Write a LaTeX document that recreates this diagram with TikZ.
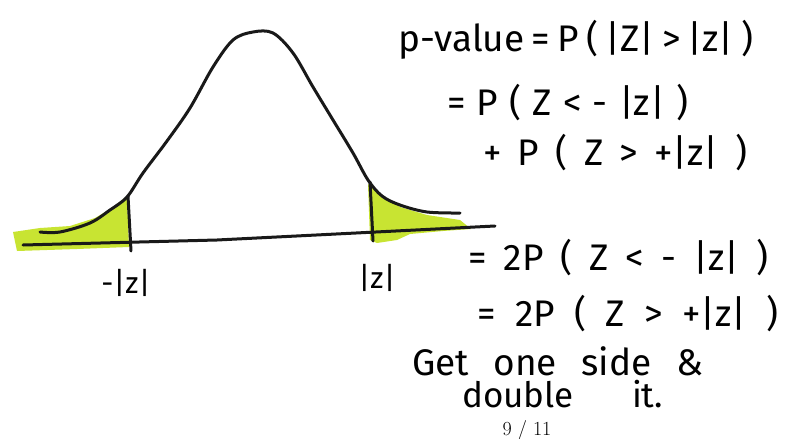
\documentclass[tikz,border=0pt]{standalone}
\usepackage{fontspec}
\setmainfont{Fira Sans}
\definecolor{hl}{RGB}{200,228,50}
\newcommand\hwline[2]{\makebox[#1][s]{#2}}
\begin{document}
\begin{tikzpicture}[x=1pt,y=-1pt,
  ink/.style={line width=3pt,line cap=round,line join=round,black!90},
  hand/.style={font=\fontsize{37}{40}\selectfont,anchor=west,inner sep=0pt},
  lab/.style={font=\fontsize{30}{34}\selectfont,inner sep=0pt}]
\useasboundingbox (0,0) rectangle (796,439);
% green tails
\fill[hl] (13,232) -- (40,228) -- (70,226) -- (95,218) -- (112,208) -- (127,196)
  -- (129,247) -- (77,249) -- (17,251) -- cycle;
\fill[hl] (368,184) -- (380,195) -- (400,207) -- (427,215) -- (460,220) -- (471,229)
  -- (443,231) -- (410,234) -- (397,240) -- (377,243) -- (370,240) -- cycle;
% axis
\draw[ink] (23,245) -- (217,240) -- (495,226);
% bell curve
\draw[ink] plot[smooth,tension=0.55] coordinates {(40,232) (60,232) (90,223) (110,210) (127,197)
  (143,173) (167,141) (190,108) (213,67) (233,40) (253,32) (273,33) (293,53)
  (313,87) (333,120) (353,153) (368,180) (382,196) (400,205) (427,212) (460,213)};
% cut lines
\coordinate (l1) at (128,196); \coordinate (l2) at (131,251);
\coordinate (r1) at (370,182); \coordinate (r2) at (373,241);
\draw[ink] (l1) -- (l2);
\draw[ink] (r1) -- (r2);
% labels
\node[lab] (lz) at (126,283) {-|z|};
\node[lab] (rz) at (377,278) {|z|};
% equations
\node[hand] (e1) at (398,40) {\hwline{355pt}{p-value = P ( |Z| > |z| )}};
\node[hand] (e2) at (447,103) {\hwline{241pt}{= P ( Z < - |z| )}};
\node[hand] (e3) at (483,153) {\hwline{264pt}{+ P ( Z > +|z| )}};
\node[hand] (e4) at (468,258) {\hwline{300pt}{= 2P ( Z < - |z| )}};
\node[hand] (e5) at (477,314) {\hwline{301pt}{= 2P ( Z > +|z| )}};
\node[hand] (t1) at (412,361) {\hwline{291pt}{Get one side \&}};
\node[hand,font=\fontsize{35}{38}\selectfont,text depth=0pt] (t2) at (462,394) {\hwline{201pt}{double it.}};
\node[font=\fontfamily{lmr}\fontsize{20}{22}\selectfont,inner sep=0pt] (pg) at (527,430) {9 / 11};
\end{tikzpicture}
\end{document}
